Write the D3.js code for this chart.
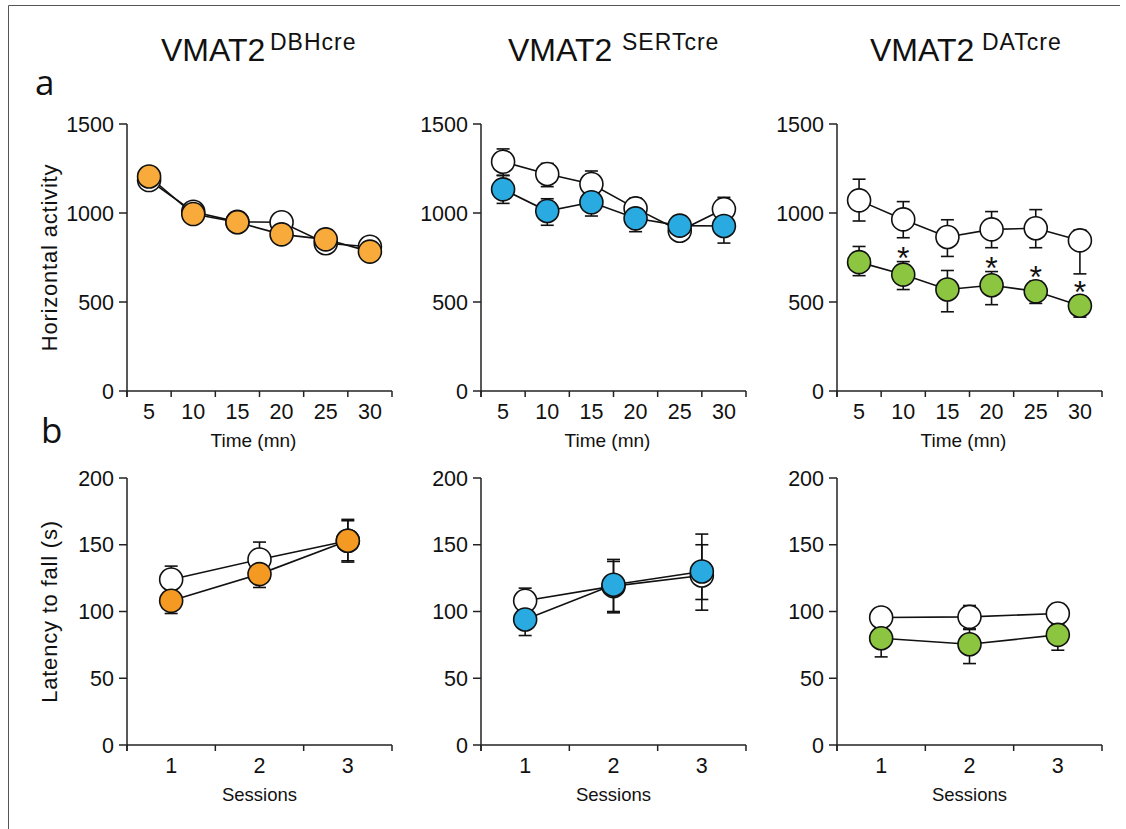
<!DOCTYPE html>
<html>
<head>
<meta charset="utf-8">
<script src="https://cdn.jsdelivr.net/npm/d3@7"></script>
<style>
  body { margin: 0; background: #fff; }
  svg text { font-family: Arial, "Liberation Sans", Helvetica, sans-serif; fill: #111; }
</style>
</head>
<body>
<svg id="chart" width="1126" height="829"></svg>
<script>
// categories / tick labels
const timeLabels = ['5', '10', '15', '20', '25', '30']
const sessionLabels = ['1', '2', '3']
const activityTicks = [0, 500, 1000, 1500]
const latencyTicks = [0, 50, 100, 150, 200]
const genotypes = ['DBHcre', 'SERTcre', 'DATcre']
const mutColorsTop = ['#f8ab3a', '#29abe2', '#8cc540']
const mutColorsBottom = ['#f49a22', '#29abe2', '#8cc540']

// a : horizontal activity, means and [up, down] error
const dbhActCtl = [1185, 1007, 950, 948, 830, 810]
const dbhActCtlErr = [[30, 30], [30, 30], [25, 25], [30, 30], [30, 30], [25, 25]]
const dbhActMut = [1205, 994, 948, 880, 852, 783]
const dbhActMutErr = [[30, 30], [30, 30], [25, 25], [30, 30], [30, 30], [25, 25]]

const sertActCtl = [1288, 1219, 1163, 1026, 900, 1022]
const sertActCtlErr = [[72, 78], [60, 71], [73, 70], [57, 55], [40, 40], [66, 60]]
const sertActMut = [1133, 1011, 1060, 970, 929, 927]
const sertActMutErr = [[79, 79], [69, 80], [77, 77], [75, 75], [40, 40], [96, 96]]

const datActCtl = [1071, 964, 865, 908, 914, 846]
const datActCtlErr = [[119, 116], [100, 103], [97, 109], [100, 103], [105, 109], [58, 188]]
const datActMut = [724, 654, 570, 594, 560, 479]
const datActMutErr = [[88, 76], [73, 84], [107, 125], [77, 109], [57, 68], [55, 64]]
const datActStars = [false, true, false, true, true, true]

// b : latency to fall (rotarod)
const dbhLatCtl = [124, 139, 153]
const dbhLatCtlErr = [[10, 10], [13, 13], [15, 15]]
const dbhLatMut = [108, 128, 153]
const dbhLatMutErr = [[9, 9.5], [10, 10], [16, 16]]

const sertLatCtl = [108, 119, 127]
const sertLatCtlErr = [[9.5, 9.5], [20, 19], [31, 26]]
const sertLatMut = [94, 120, 130]
const sertLatMutErr = [[12, 12], [17.5, 21], [20, 21]]

const datLatCtl = [95.5, 96, 98.5]
const datLatCtlErr = [[7, 7], [8.5, 9], [7.5, 7]]
const datLatMut = [80, 75.5, 82.5]
const datLatMutErr = [[10, 14], [11, 14.5], [8, 11.5]]

const svg = d3.select('#chart')

// thin frame (top + left)
svg.append('path')
  .attr('d', 'M8.5,829 V5.5 H1120')
  .attr('fill', 'none')
  .attr('stroke', '#555')
  .attr('stroke-width', 1)

const colX = [127, 481, 837]
const panelW = 265
const panelH = 267
const rowY = [124, 478]
const titleX = [161, 508, 870]
const supX = [270, 622, 982]

// titles
genotypes.forEach((gname, i) => {
  svg.append('text')
    .attr('x', titleX[i]).attr('y', 61)
    .style('font-size', '32px')
    .text('VMAT2')
  svg.append('text')
    .attr('x', supX[i]).attr('y', 50)
    .style('font-size', '23px')
    .style('letter-spacing', '1px')
    .text(gname)
})

// panel letters
svg.append('text').attr('x', 35).attr('y', 95)
  .style('font-family', '"Open Sans", sans-serif').style('font-size', '35px').text('a')
svg.append('text').attr('x', 41).attr('y', 443)
  .style('font-family', '"Open Sans", sans-serif').style('font-size', '35px').text('b')

function drawPanel({ x0, y0, cats, yMax, yTicks, ctl, ctlErr, mut, mutErr, color, xTitle, yTitle, stars }) {
  const g = svg.append('g')
  const x = d3.scaleBand().domain(cats).range([x0, x0 + panelW]).padding(0)
  const y = d3.scaleLinear().domain([0, yMax]).range([y0 + panelH, y0])
  const cx = c => x(c) + x.bandwidth() / 2
  const axisColor = '#222'

  // y axis
  g.append('line')
    .attr('x1', x0).attr('x2', x0)
    .attr('y1', y(yMax)).attr('y2', y(0) + 6)
    .attr('stroke', axisColor).attr('stroke-width', 1.5)
  g.selectAll('.ytick').data(yTicks).join('line')
    .attr('x1', x0 - 8).attr('x2', x0)
    .attr('y1', d => y(d)).attr('y2', d => y(d))
    .attr('stroke', axisColor).attr('stroke-width', 1.5)
  g.selectAll('.ylab').data(yTicks).join('text')
    .attr('x', x0 - 13).attr('y', d => y(d))
    .attr('dy', '0.36em')
    .attr('text-anchor', 'end')
    .style('font-size', '21.5px')
    .text(d => d)

  // x axis, ticks on band edges
  g.append('line')
    .attr('x1', x0).attr('x2', x0 + panelW)
    .attr('y1', y(0)).attr('y2', y(0))
    .attr('stroke', axisColor).attr('stroke-width', 1.5)
  const edges = cats.map(c => x(c)).concat([x0 + panelW])
  g.selectAll('.xtick').data(edges).join('line')
    .attr('x1', d => d).attr('x2', d => d)
    .attr('y1', y(0)).attr('y2', y(0) + 6)
    .attr('stroke', axisColor).attr('stroke-width', 1.5)
  g.selectAll('.xlab').data(cats).join('text')
    .attr('x', d => cx(d)).attr('y', y(0) + 28)
    .attr('text-anchor', 'middle')
    .style('font-size', '21.5px')
    .text(d => d)

  // axis titles
  g.append('text')
    .attr('x', x0 + panelW / 2 - (cats.length > 3 ? 6 : 0)).attr('y', y(0) + 56)
    .attr('text-anchor', 'middle')
    .style('font-size', cats.length > 3 ? '19px' : '18.5px')
    .text(xTitle)
  if (yTitle) {
    g.append('text')
      .attr('transform', `translate(57,${y0 + panelH / 2}) rotate(-90)`)
      .attr('text-anchor', 'middle')
      .style('font-size', '22px')
      .style('letter-spacing', '0.8px')
      .text(yTitle)
  }

  const line = d3.line().x((d, i) => cx(cats[i])).y(d => y(d))
  const series = [
    { vals: ctl, err: ctlErr, fill: '#fff' },
    { vals: mut, err: mutErr, fill: color },
  ]

  series.forEach(s => {
    g.append('path')
      .attr('d', line(s.vals))
      .attr('fill', 'none')
      .attr('stroke', '#111').attr('stroke-width', 1.6)
  })

  series.forEach(s => {
    const eg = g.append('g').attr('stroke', '#111').attr('stroke-width', 1.6)
    s.vals.forEach((v, i) => {
      const px = cx(cats[i])
      const top = y(v + s.err[i][0])
      const bot = y(v - s.err[i][1])
      eg.append('line').attr('x1', px).attr('x2', px).attr('y1', top).attr('y2', bot)
      eg.append('line').attr('x1', px - 6.5).attr('x2', px + 6.5).attr('y1', top).attr('y2', top)
      eg.append('line').attr('x1', px - 6.5).attr('x2', px + 6.5).attr('y1', bot).attr('y2', bot)
    })
  })

  series.forEach(s => {
    g.selectAll(null).data(s.vals).join('circle')
      .attr('cx', (d, i) => cx(cats[i]))
      .attr('cy', d => y(d))
      .attr('r', 11.5)
      .attr('fill', s.fill)
      .attr('stroke', '#111').attr('stroke-width', 1.6)
  })

  if (stars) {
    g.selectAll('.star').data(mut.map((v, i) => ({ v, i })).filter(d => stars[d.i])).join('text')
      .attr('x', d => cx(cats[d.i]))
      .attr('y', d => y(d.v + mutErr[d.i][0]) + 7)
      .attr('text-anchor', 'middle')
      .style('font-size', '32px')
      .text('*')
  }
}

const actSets = [
  [dbhActCtl, dbhActCtlErr, dbhActMut, dbhActMutErr],
  [sertActCtl, sertActCtlErr, sertActMut, sertActMutErr],
  [datActCtl, datActCtlErr, datActMut, datActMutErr],
]
const latSets = [
  [dbhLatCtl, dbhLatCtlErr, dbhLatMut, dbhLatMutErr],
  [sertLatCtl, sertLatCtlErr, sertLatMut, sertLatMutErr],
  [datLatCtl, datLatCtlErr, datLatMut, datLatMutErr],
]

actSets.forEach(([ctl, ctlErr, mut, mutErr], i) => {
  drawPanel({
    x0: colX[i], y0: rowY[0], cats: timeLabels, yMax: 1500, yTicks: activityTicks,
    ctl, ctlErr, mut, mutErr, color: mutColorsTop[i],
    xTitle: 'Time (mn)',
    yTitle: i === 0 ? 'Horizontal activity' : null,
    stars: i === 2 ? datActStars : null,
  })
})

latSets.forEach(([ctl, ctlErr, mut, mutErr], i) => {
  drawPanel({
    x0: colX[i], y0: rowY[1], cats: sessionLabels, yMax: 200, yTicks: latencyTicks,
    ctl, ctlErr, mut, mutErr, color: mutColorsBottom[i],
    xTitle: 'Sessions',
    yTitle: i === 0 ? 'Latency to fall (s)' : null,
  })
})
</script>
</body>
</html>
